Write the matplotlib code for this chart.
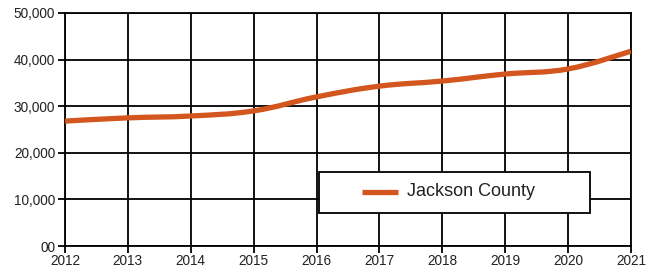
import numpy as np
import matplotlib
matplotlib.use("Agg")
import matplotlib.pyplot as plt
from matplotlib.path import Path
from matplotlib.patches import PathPatch, Rectangle
from matplotlib.lines import Line2D

plt.rcParams["font.family"] = ["Liberation Sans", "DejaVu Sans"]

years = [2012, 2013, 2014, 2015, 2016, 2017, 2018, 2019, 2020, 2021]
jackson = [26800, 27500, 27900, 29000, 32000, 34300, 35400, 36900, 38000, 41800]
yticks = [0, 10000, 20000, 30000, 40000, 50000]
ytick_labels = ["00", "10,000", "20,000", "30,000", "40,000", "50,000"]
series_name = "Jackson County"
title = "Employment"
COLOR = "#D2561E"

W, H = 654, 268
L, R, T, B = 65, 631, 13, 246  # plot area in pixels


def smooth_path(x, y, t=0.2):
    # Catmull-Rom style bezier through the data points
    x = np.asarray(x, float)
    y = np.asarray(y, float)
    verts = [(x[0], y[0])]
    codes = [Path.MOVETO]
    n = len(x)
    for i in range(n - 1):
        x0, y0 = (x[i - 1], y[i - 1]) if i > 0 else (x[i], y[i])
        x3, y3 = (x[i + 2], y[i + 2]) if i + 2 < n else (x[i + 1], y[i + 1])
        c1 = (x[i] + (x[i + 1] - x0) * t, y[i] + (y[i + 1] - y0) * t)
        c2 = (x[i + 1] - (x3 - x[i]) * t, y[i + 1] - (y3 - y[i]) * t)
        verts += [c1, c2, (x[i + 1], y[i + 1])]
        codes += [Path.CURVE4] * 3
    return Path(verts, codes)


def ax_xy(px, py):
    return (px - L) / (R - L), (B - py) / (B - T)


fig = plt.figure(figsize=(W / 100, H / 100), dpi=100)
ax = fig.add_axes([L / W, (H - B) / H, (R - L) / W, (B - T) / H])

ax.set_xlim(years[0], years[-1])
ax.set_ylim(0, 50000)
ax.set_xticks(years)
ax.set_xticklabels([str(y) for y in years])
ax.set_yticks(yticks)
ax.set_yticklabels(ytick_labels)
ax.grid(True, color="black", lw=1.3)
ax.set_axisbelow(True)
for s in ax.spines.values():
    s.set_linewidth(1.3)
ax.tick_params(axis="both", labelsize=9.8, labelcolor="#222222", length=5, width=1.3,
               color="black", pad=2)
ax.tick_params(axis="x", pad=0.5)

ax.add_patch(PathPatch(smooth_path(years, jackson), fill=False, edgecolor=COLOR,
                       lw=3.8, capstyle="butt", zorder=3))

# legend box drawn by hand to match the padding of the original
x0, y0 = ax_xy(319, 213)
x1, y1 = ax_xy(590, 172)
ax.add_patch(Rectangle((x0, y0), x1 - x0, y1 - y0, transform=ax.transAxes,
                       facecolor="white", edgecolor="black", lw=1.3, zorder=5))
hx0, hy = ax_xy(362, 192)
hx1, _ = ax_xy(398, 192)
ax.add_line(Line2D([hx0, hx1], [hy, hy], transform=ax.transAxes, color=COLOR, lw=3.8,
                   solid_capstyle="butt", zorder=6))
tx, _ = ax_xy(407, 192)
ax.text(tx, hy, series_name, transform=ax.transAxes, fontsize=13, color="#222222",
        va="center", ha="left", zorder=6)

fig.text(30 / W, 1.0 + 6 / H, title, fontsize=20, fontweight="bold", va="baseline")

fig.savefig("out.png", dpi=100)
